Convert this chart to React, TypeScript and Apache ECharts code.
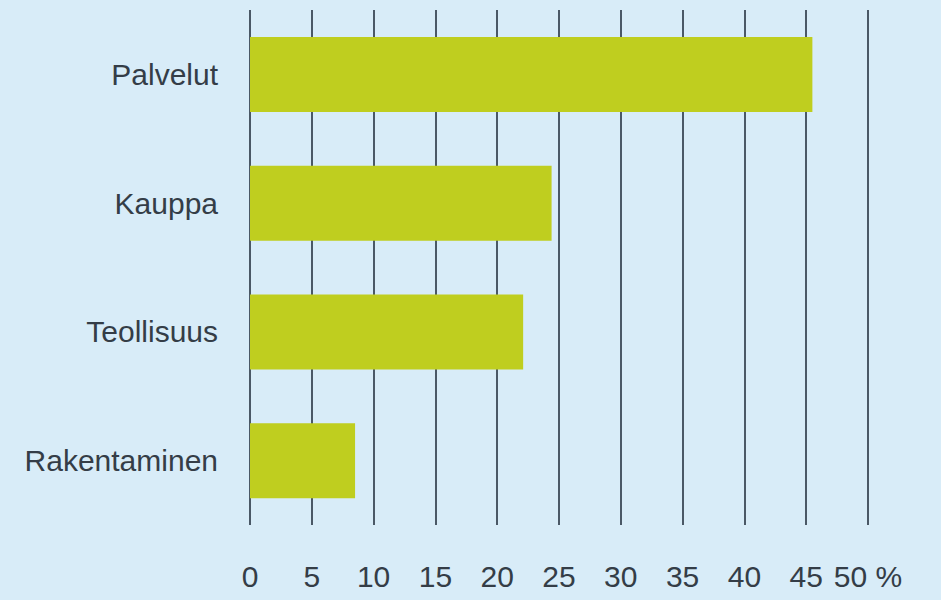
import React, { useEffect, useRef } from "react";
import * as echarts from "echarts";

const categories = ["Palvelut", "Kauppa", "Teollisuus", "Rakentaminen"];
const shares = [45.5, 24.4, 22.1, 8.5];
const tickMax = 50;
const tickStep = 5;

const FONT = "'Liberation Sans', Arial, Helvetica, sans-serif";

export default function App() {
  const ref = useRef<HTMLDivElement>(null);
  useEffect(() => {
    if (!ref.current) return;
    const chart = echarts.init(ref.current, null, { renderer: "svg" });
    chart.setOption({
      animation: false,
      backgroundColor: "#d8ecf8",
      grid: {
        left: 250,
        right: 73,
        top: 10,
        bottom: 75,
        containLabel: false,
        outerBoundsMode: "none",
      },
      xAxis: {
        type: "value",
        min: 0,
        max: tickMax,
        interval: tickStep,
        axisLine: { show: false },
        axisTick: { show: false },
        splitLine: { show: true, lineStyle: { color: "#4a5866", width: 2 } },
        axisLabel: {
          margin: 36,
          fontFamily: FONT,
          fontSize: 30,
          color: "#343d47",
          formatter: (v: number) => (v === tickMax ? `${v} %` : `${v}`),
        },
      },
      yAxis: {
        type: "category",
        data: categories,
        inverse: true,
        axisLine: { show: false },
        axisTick: { show: false },
        splitLine: { show: false },
        axisLabel: {
          margin: 32,
          fontFamily: FONT,
          fontSize: 30,
          color: "#343d47",
        },
      },
      series: [
        {
          type: "bar",
          data: shares,
          barWidth: 75,
          itemStyle: { color: "#bfce1f" },
        },
      ],
    });
    return () => chart.dispose();
  }, []);
  return (
    <div
      ref={ref}
      style={{ position: "fixed", left: 0, top: 0, width: 941, height: 600 }}
    />
  );
}
